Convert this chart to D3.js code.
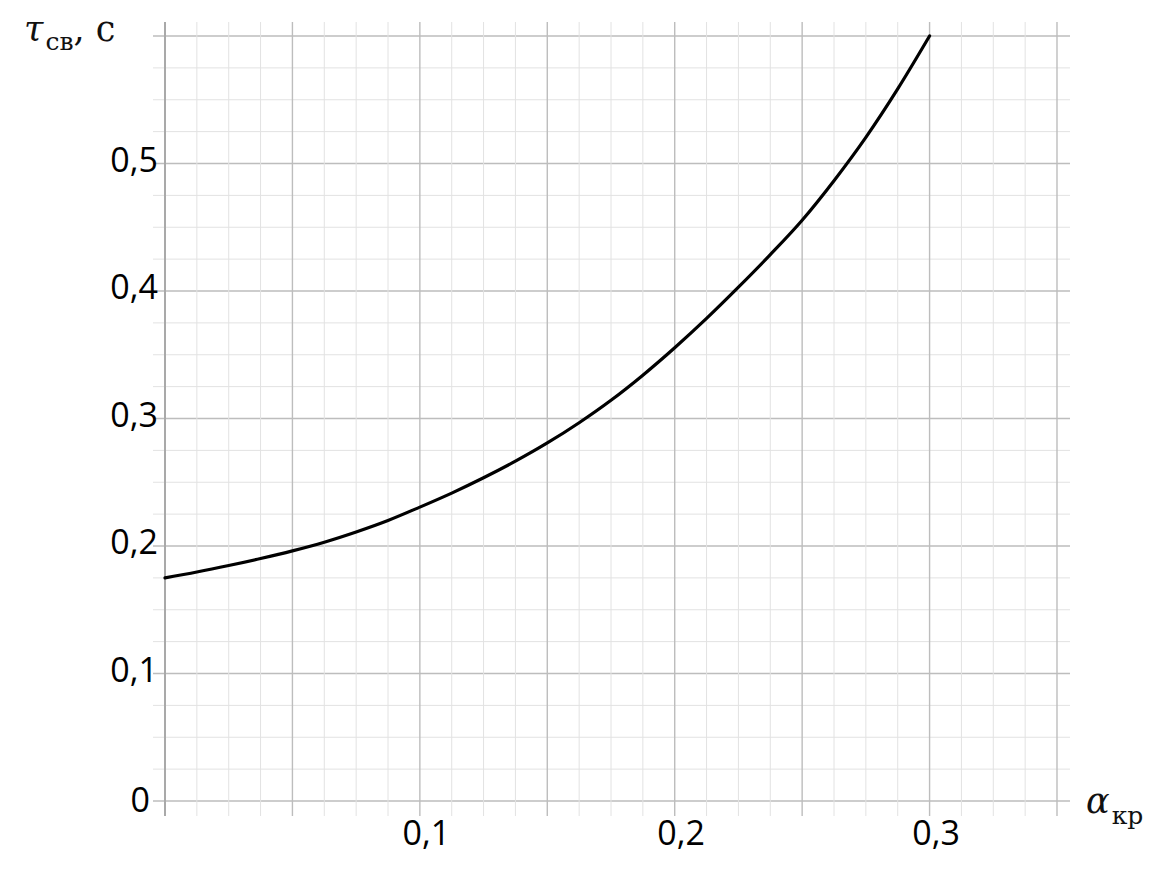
<!DOCTYPE html>
<html>
<head>
<meta charset="utf-8">
<script src="https://cdn.jsdelivr.net/npm/d3@7"></script>
<style>
  html, body { margin: 0; padding: 0; background: #fff; }
  svg { display: block; }
</style>
</head>
<body>
<svg id="chart" width="1169" height="892"></svg>
<script>
// ---- data ----
const alphaKr = [0, 0.0125, 0.025, 0.0375, 0.05, 0.0625, 0.075, 0.0875, 0.1, 0.1125, 0.125, 0.1375, 0.15,
                 0.1625, 0.175, 0.1875, 0.2, 0.2125, 0.225, 0.2375, 0.25, 0.2625, 0.275, 0.2875, 0.3];
const tauSv   = [0.175, 0.1796, 0.1847, 0.1902, 0.1962, 0.2030, 0.2110, 0.2200, 0.2305, 0.2415, 0.2535, 0.2665, 0.2808,
                 0.2967, 0.3143, 0.3340, 0.3555, 0.3785, 0.4030, 0.4285, 0.4555, 0.4865, 0.5205, 0.5585, 0.600];
const xTickValues = [0.1, 0.2, 0.3];
const yTickValues = [0, 0.1, 0.2, 0.3, 0.4, 0.5];
const xDomain = [0, 0.35];
const yDomain = [0, 0.6];

// ---- layout ----
const svg = d3.select("#chart");
const x = d3.scaleLinear().domain(xDomain).range([165, 1057]);
const y = d3.scaleLinear().domain(yDomain).range([801, 36]);

const fmt = v => v === 0 ? "0" : d3.format(".1f")(v).replace(".", ",");

// grid
const g = svg.append("g");
const xMinor = d3.range(0, 0.35 + 1e-9, 0.0125);
const yMinor = d3.range(0, 0.6 + 1e-9, 0.025);
const isMajX = v => Math.abs(v / 0.05 - Math.round(v / 0.05)) < 1e-6;
const isMajY = v => Math.abs(v / 0.1 - Math.round(v / 0.1)) < 1e-6;

g.selectAll("line.hy").data(yMinor).enter().append("line")
  .attr("x1", 153).attr("x2", 1070)
  .attr("y1", d => y(d)).attr("y2", d => y(d))
  .attr("stroke", d => isMajY(d) ? "#bdbdbd" : "#e2e2e2")
  .attr("stroke-width", d => isMajY(d) ? 1.4 : 1);

g.selectAll("line.vx").data(xMinor).enter().append("line")
  .attr("y1", 22).attr("y2", 816)
  .attr("x1", d => x(d)).attr("x2", d => x(d))
  .attr("stroke", d => d === 0 ? "#a9a9a9" : (isMajX(d) ? "#bdbdbd" : "#e2e2e2"))
  .attr("stroke-width", d => d === 0 ? 2 : (isMajX(d) ? 1.4 : 1));

// axes (labels only)
const tickFont = "'Open Sans', 'Noto Sans', sans-serif";
const yAxis = svg.append("g").attr("transform", "translate(160,0)")
  .call(d3.axisLeft(y).tickValues(yTickValues).tickFormat(fmt).tickSize(0).tickPadding(0));
yAxis.select(".domain").remove();
yAxis.selectAll("text")
  .attr("font-family", tickFont).attr("font-size", 34).attr("fill", "#000")
  .attr("dy", "0.32em")
  .attr("x", d => d === 0 ? -10 : -2)
  .attr("transform", d => d === 0 ? "translate(0,0)" : "translate(0,-3)");

const xAxis = svg.append("g").attr("transform", "translate(6,821)")
  .call(d3.axisBottom(x).tickValues(xTickValues).tickFormat(fmt).tickSize(0).tickPadding(0));
xAxis.select(".domain").remove();
xAxis.selectAll("text")
  .attr("font-family", tickFont).attr("font-size", 34).attr("fill", "#000")
  .attr("dy", "0.71em");

// curve
const line = d3.line()
  .x((d, i) => x(alphaKr[i]))
  .y(d => y(d))
  .curve(d3.curveMonotoneX);
svg.append("path").datum(tauSv)
  .attr("d", line)
  .attr("fill", "none")
  .attr("stroke", "#000")
  .attr("stroke-width", 3.2)
  .attr("stroke-linecap", "round");

// axis titles
const serif = "'DejaVu Serif', 'Liberation Serif', serif";
const yt = svg.append("text").attr("x", 24).attr("y", 41)
  .attr("font-family", serif).attr("font-size", 35).attr("fill", "#111");
yt.append("tspan").attr("font-style", "italic").text("τ");
yt.append("tspan").attr("font-size", 25).attr("dx", 2).attr("dy", 9).text("св");
yt.append("tspan").attr("dy", -9).text(", с");

const xt = svg.append("text").attr("x", 1086).attr("y", 813)
  .attr("font-family", serif).attr("font-size", 35).attr("fill", "#111");
xt.append("tspan").attr("font-style", "italic").text("α");
xt.append("tspan").attr("font-size", 25).attr("dx", 2).attr("dy", 11).text("кр");
</script>
</body>
</html>
